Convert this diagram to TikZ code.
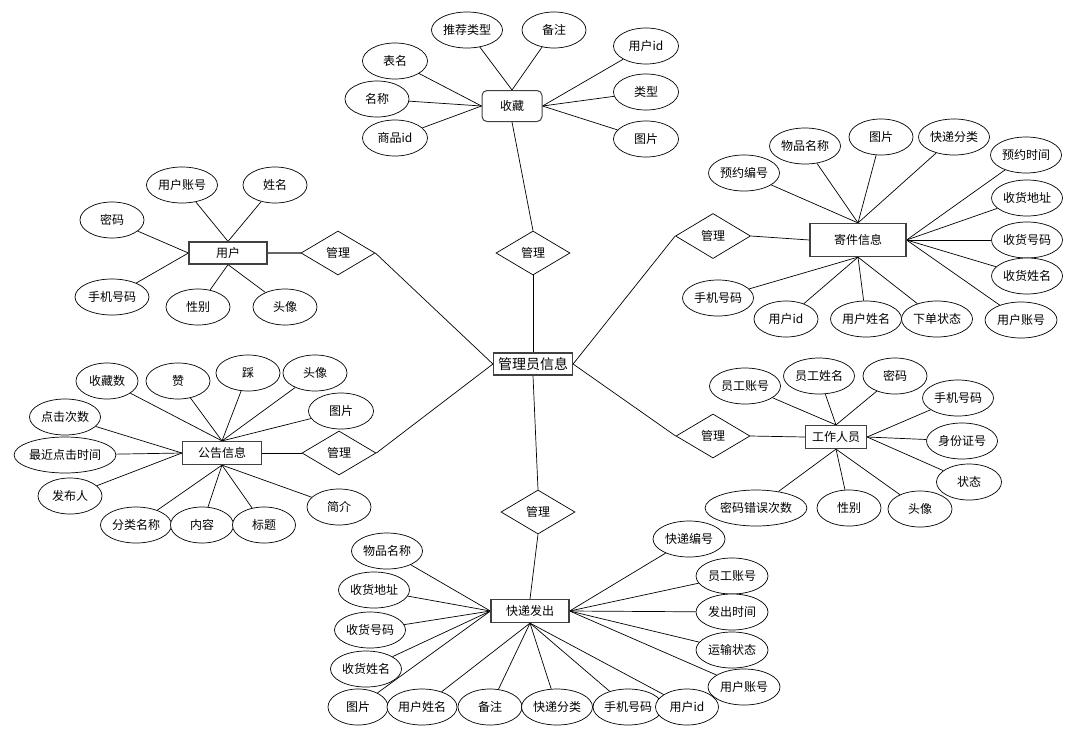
\documentclass[tikz,border=0pt]{standalone}
\usepackage{fontspec}
\setmainfont{Noto Sans CJK SC}
\usetikzlibrary{shapes.geometric,backgrounds}
\tikzset{
  txt/.style={font=\fontsize{12}{14}\selectfont},
  attr/.style={txt, ellipse, draw=black, fill=white, line width=0.7pt, minimum width=64, minimum height=36, inner sep=0pt},
  aw/.style={attr, minimum width=71},
  ent/.style={txt, rectangle, draw=black!75, line width=1.2pt, fill=white, inner sep=0pt},
  rel/.style={txt, diamond, draw=black, fill=white, line width=0.7pt, minimum width=74, minimum height=44, inner sep=0pt},
  link/.style={draw=black, line width=0.7pt}
}
\begin{document}
\begin{tikzpicture}[x=1pt,y=-1pt]
\useasboundingbox (0,0) rectangle (1092,740);

% ---------- central ----------
\node[ent, minimum width=79, minimum height=22, font=\fontsize{14}{16}\selectfont] (admin) at (533,364) {管理员信息};

% ---------- 收藏 ----------
\node[ent, rounded corners=5pt, line width=1pt, minimum width=60, minimum height=31] (fav) at (512,106) {收藏};
\node[rel] (r1) at (533,253) {管理};
\node[aw] (a1) at (467,30) {推荐类型};
\node[attr] (a2) at (554,30) {备注};
\node[attr, minimum width=65] (a3) at (395,61) {表名};
\node[attr] (a4) at (377,99) {名称};
\node[attr, minimum width=65] (a5) at (395,138) {商品id};
\node[attr, minimum width=65] (a6) at (646,46) {用户id};
\node[attr, minimum width=65] (a7) at (646,92) {类型};
\node[attr, minimum width=65] (a8) at (646,139) {图片};

% ---------- 用户 ----------
\node[ent, minimum width=78, minimum height=22] (user) at (228,253) {用户};
\node[rel] (r2) at (338,253) {管理};
\node[aw] (b1) at (182,185) {用户账号};
\node[attr] (b2) at (275,185) {姓名};
\node[attr] (b3) at (112,220) {密码};
\node[attr, minimum width=74] (b4) at (112,297) {手机号码};
\node[attr] (b5) at (198,307) {性别};
\node[attr] (b6) at (285,307) {头像};

% ---------- 公告信息 ----------
\node[ent, minimum width=79, minimum height=23] (notice) at (222,453) {公告信息};
\node[rel] (r3) at (339,453) {管理};
\node[attr, minimum width=62] (c1) at (107,381) {收藏数};
\node[attr] (c2) at (178,381) {赞};
\node[attr] (c3) at (248,373) {踩};
\node[attr] (c4) at (315,373) {头像};
\node[attr, minimum width=65] (c5) at (341,411) {图片};
\node[aw] (c6) at (65,417) {点击次数};
\node[attr, minimum width=96] (c7) at (65,455) {最近点击时间};
\node[attr] (c8) at (70,496) {发布人};
\node[aw] (c9) at (136,525) {分类名称};
\node[attr, minimum width=63] (c10) at (202,525) {内容};
\node[attr, minimum width=63] (c11) at (264,525) {标题};
\node[attr] (c12) at (339,507) {简介};

% ---------- 寄件信息 ----------
\node[ent, minimum width=96, minimum height=33] (send) at (858,240) {寄件信息};
\node[rel, minimum width=75, minimum height=45] (r4) at (713,236) {管理};
\node[aw] (d1) at (805,146) {物品名称};
\node[attr] (d2) at (881,137) {图片};
\node[aw] (d3) at (954,137) {快递分类};
\node[aw] (d4) at (1026,155) {预约时间};
\node[aw] (d5) at (744,173) {预约编号};
\node[aw] (d6) at (1027,198) {收货地址};
\node[aw] (d7) at (1027,240) {收货号码};
\node[aw] (d8) at (1027,276) {收货姓名};
\node[attr, minimum width=72] (d9) at (1021,320) {用户账号};
\node[aw] (d13) at (718,298) {手机号码};
\node[attr] (d12) at (786,319) {用户id};
\node[aw] (d11) at (866,319) {用户姓名};
\node[aw] (d10) at (937,319) {下单状态};

% ---------- 工作人员 ----------
\node[ent, minimum width=61, minimum height=23] (staff) at (836,437) {工作人员};
\node[rel] (r5) at (713,436) {管理};
\node[aw] (e1) at (745,386) {员工账号};
\node[aw] (e2) at (819,376) {员工姓名};
\node[attr] (e3) at (895,376) {密码};
\node[aw] (e4) at (958,398) {手机号码};
\node[aw] (e5) at (962,441) {身份证号};
\node[attr, minimum width=65] (e6) at (969,482) {状态};
\node[attr] (e7) at (920,509) {头像};
\node[attr] (e8) at (849,508) {性别};
\node[attr, minimum width=86] (e9) at (756,508) {密码错误次数};

% ---------- 快递发出 ----------
\node[ent, minimum width=78, minimum height=23] (exp) at (530,611) {快递发出};
\node[rel] (r6) at (538,512) {管理};
\node[aw] (f1) at (387,551) {物品名称};
\node[aw] (f2) at (374,590) {收货地址};
\node[aw] (f3) at (370,630) {收货号码};
\node[aw] (f4) at (366,669) {收货姓名};
\node[attr, minimum width=60] (f5) at (358,707) {图片};
\node[attr, minimum width=70] (f6) at (422,707) {用户姓名};
\node[attr] (f7) at (490,707) {备注};
\node[aw] (f8) at (557,707) {快递分类};
\node[attr, minimum width=70] (f9) at (628,707) {手机号码};
\node[attr, minimum width=63] (f10) at (687,707) {用户id};
\node[attr, minimum width=72] (f11) at (689,539) {快递编号};
\node[attr, minimum width=72] (f12) at (732,576) {员工账号};
\node[attr, minimum width=72] (f13) at (732,612) {发出时间};
\node[attr, minimum width=72] (f14) at (732,650) {运输状态};
\node[attr, minimum width=72] (f15) at (744,687) {用户账号};

\begin{scope}[on background layer]
% relation links
\draw[link] (fav.south) -- (r1.north);
\draw[link] (r1.south) -- (admin.north);
\draw[link, line width=1.3pt, draw=black!60] (user.east) -- (r2.west);
\draw[link] (r2.east) -- (admin.west);
\draw[link] (notice.east) -- (r3.west);
\draw[link] (r3.east) -- (admin.west);
\draw[link] (r4.east) -- (send.west);
\draw[link] (r4.west) -- (admin.east);
\draw[link] (r5.east) -- (staff.west);
\draw[link] (r5.west) -- (admin.east);
\draw[link] (admin.south) -- (r6.north);
\draw[link] (r6.south) -- (exp.north);
% 收藏
\foreach \n in {a1,a2} \draw[link] (\n) -- (fav.north);
\foreach \n in {a3,a4,a5} \draw[link] (\n) -- (fav.west);
\foreach \n in {a6,a7,a8} \draw[link] (\n) -- (fav.east);
% 用户
\foreach \n in {b1,b2} \draw[link] (\n) -- (user.north);
\foreach \n in {b3,b4} \draw[link] (\n) -- (user.west);
\foreach \n in {b5,b6} \draw[link] (\n) -- (user.south);
% 公告信息
\foreach \n in {c1,c2,c3,c4,c5} \draw[link] (\n) -- (notice.north);
\foreach \n in {c6,c7,c8} \draw[link] (\n) -- (notice.west);
\foreach \n in {c9,c10,c11,c12} \draw[link] (\n) -- (notice.south);
% 寄件信息
\foreach \n in {d1,d2,d3,d5} \draw[link] (\n) -- (send.north);
\foreach \n in {d4,d6,d7,d8,d9} \draw[link] (\n) -- (send.east);
\foreach \n in {d10,d11,d12,d13} \draw[link] (\n) -- (send.south);
% 工作人员
\foreach \n in {e1,e2,e3} \draw[link] (\n) -- (staff.north);
\foreach \n in {e4,e5,e6} \draw[link] (\n) -- (staff.east);
\foreach \n in {e7,e8,e9} \draw[link] (\n) -- (staff.south);
% 快递发出
\foreach \n in {f1,f2,f3,f4,f5} \draw[link] (\n) -- (exp.west);
\foreach \n in {f6,f7,f8,f9,f10} \draw[link] (\n) -- (exp.south);
\foreach \n in {f11,f12,f13,f14,f15} \draw[link] (\n) -- (exp.east);
\end{scope}
\end{tikzpicture}
\end{document}
